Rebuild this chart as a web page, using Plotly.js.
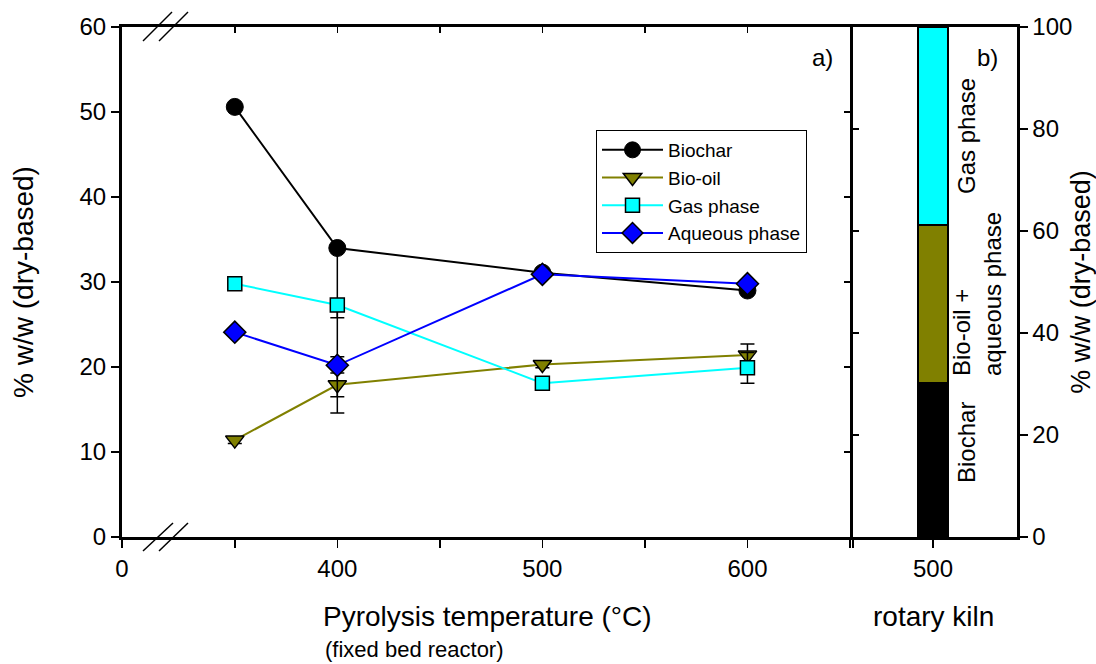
<!DOCTYPE html>
<html><head><meta charset="utf-8">
<script src="https://cdn.plot.ly/plotly-3.0.1.min.js"></script>
<style>html,body{margin:0;padding:0;background:#fff}#chart{width:1096px;height:664px}</style>
</head><body><div id="chart"></div>
<script>
// ---- data (panel a: fixed bed reactor) ----
const temperatures = [350, 400, 500, 600];
const biochar = [50.6, 34.0, 31.1, 29.0];
const bioOil = [11.4, 17.9, 20.3, 21.4];
const gasPhase = [29.8, 27.3, 18.1, 19.9];
const aqueousPhase = [24.1, 20.2, 30.9, 29.8];
// error bars (plus / minus)
const biocharErrPlus = [0, 0, 0, 0];
const biocharErrMinus = [0, 14.7, 0, 0];
const bioOilErr = [0.4, 3.3, 0.4, 1.3];
const gasErrPlus = [0, 0, 0, 1.8];
const gasErrMinus = [0, 1.5, 0, 1.8];
const aqueousErrPlus = [0, 0, 0, 0];
const aqueousErrMinus = [0, 3.7, 0, 0];
// x tick labels for the broken axis
const xTickVals = [295, 350, 400, 450, 500, 550, 600, 650];
const xTickText = ['0', '', '400', '', '500', '', '600', ''];

// ---- data (panel b: rotary kiln, stacked) ----
const kilnTemp = [500];
const kilnBiochar = [30.3];
const kilnBioOilAqueous = [30.9];
const kilnGas = [38.8];
const kilnTickVals = [450, 500];
const kilnTickText = ['', '500'];

const FONT = 'Arial, "Liberation Sans", sans-serif';
const errStyle = {color: '#000', thickness: 1.5, width: 7};

function errArr(plus, minus) {
  return Object.assign({type: 'data', symmetric: false, array: plus, arrayminus: minus, visible: true}, errStyle);
}

const traces = [
  {x: temperatures, y: biochar, name: 'Biochar', type: 'scatter', mode: 'lines+markers',
   line: {color: '#000000', width: 2},
   marker: {symbol: 'circle', size: 17, color: '#000000', line: {color: '#000', width: 1}},
   error_y: errArr(biocharErrPlus, biocharErrMinus)},
  {x: temperatures, y: bioOil, name: 'Bio-oil', type: 'scatter', mode: 'lines+markers',
   line: {color: '#808000', width: 2},
   marker: {symbol: 'triangle-down', size: 16, color: '#808000', line: {color: '#000', width: 1.5}},
   error_y: Object.assign({type: 'data', array: bioOilErr, visible: true}, errStyle)},
  {x: temperatures, y: gasPhase, name: 'Gas phase', type: 'scatter', mode: 'lines+markers',
   line: {color: '#00FFFF', width: 2},
   marker: {symbol: 'square', size: 14, color: '#00FFFF', line: {color: '#000', width: 1.5}},
   error_y: errArr(gasErrPlus, gasErrMinus)},
  {x: temperatures, y: aqueousPhase, name: 'Aqueous phase', type: 'scatter', mode: 'lines+markers',
   line: {color: '#0000FF', width: 2},
   marker: {symbol: 'diamond', size: 17, color: '#0000FF', line: {color: '#000', width: 1.5}},
   error_y: errArr(aqueousErrPlus, aqueousErrMinus)},
  // stacked bar in panel b
  {x: kilnTemp, y: kilnBiochar, type: 'bar', xaxis: 'x2', yaxis: 'y2', width: 18.75, showlegend: false,
   marker: {color: '#000000', line: {color: '#000', width: 1.5}}, hoverinfo: 'skip'},
  {x: kilnTemp, y: kilnBioOilAqueous, type: 'bar', xaxis: 'x2', yaxis: 'y2', width: 18.75, showlegend: false,
   marker: {color: '#808000', line: {color: '#000', width: 1.5}}, hoverinfo: 'skip'},
  {x: kilnTemp, y: kilnGas, type: 'bar', xaxis: 'x2', yaxis: 'y2', width: 18.75, showlegend: false,
   marker: {color: '#00FFFF', line: {color: '#000', width: 1.5}}, hoverinfo: 'skip'},
  // helper traces so the mirrored (inside-tick) axes are drawn
  {x: [null], y: [null], xaxis: 'x3', yaxis: 'y3', type: 'scatter', mode: 'markers', showlegend: false, hoverinfo: 'skip'},
  {x: [null], y: [null], xaxis: 'x2', yaxis: 'y4', type: 'scatter', mode: 'markers', showlegend: false, hoverinfo: 'skip'}
];

const P = (px) => (px - 122) / 895;   // paper x from pixel
const Q = (py) => (537 - py) / 510;   // paper y from pixel

const slash = (x0, y0, x1, y1) => ({type: 'line', xref: 'paper', yref: 'paper',
  x0: P(x0), y0: Q(y0), x1: P(x1), y1: Q(y1), line: {color: '#000', width: 1.5}});

const tickFont = {family: FONT, size: 24, color: '#000'};
const note = (text, px, py, size, extra) => Object.assign({text: text, xref: 'paper', yref: 'paper',
  x: P(px), y: Q(py), xanchor: 'center', yanchor: 'middle', showarrow: false,
  font: {family: FONT, size: size, color: '#000'}}, extra || {});

const layout = {
  width: 1096, height: 664,
  margin: {l: 122, r: 79, t: 27, b: 127},
  paper_bgcolor: '#fff', plot_bgcolor: 'rgba(0,0,0,0)',
  font: {family: FONT, color: '#000'},
  showlegend: true,
  hovermode: false,
  barmode: 'stack',
  xaxis: {domain: [0, P(850)], range: [295, 650], anchor: 'y',
    tickmode: 'array', tickvals: xTickVals, ticktext: xTickText,
    ticks: 'outside', ticklen: 8, tickwidth: 1.5, tickcolor: '#000',
    showline: true, linewidth: 3, linecolor: '#000', showgrid: false, zeroline: false,
    tickfont: tickFont},
  xaxis3: {overlaying: 'x', side: 'top', anchor: 'y', range: [295, 650],
    tickmode: 'array', tickvals: xTickVals.slice(1), ticks: 'inside', ticklen: 6, tickwidth: 1.5, tickcolor: '#000',
    showticklabels: false, showline: true, linewidth: 3, linecolor: '#000', showgrid: false, zeroline: false},
  yaxis: {domain: [0, 1], range: [0, 60], anchor: 'x', dtick: 10,
    ticks: 'outside', ticklen: 8, tickwidth: 1.5, tickcolor: '#000',
    showline: true, linewidth: 3, linecolor: '#000', showgrid: false, zeroline: false,
    tickfont: tickFont,
    title: {text: '% w/w (dry-based)', font: {family: FONT, size: 28, color: '#000'}, standoff: 38}},
  yaxis3: {overlaying: 'y', side: 'right', anchor: 'x', range: [0, 60], dtick: 10,
    ticks: 'inside', ticklen: 6, tickwidth: 1.5, tickcolor: '#000',
    showticklabels: false, showline: true, linewidth: 3, linecolor: '#000', showgrid: false, zeroline: false},
  xaxis2: {domain: [P(853), 1], range: [450, 552.5], anchor: 'y2',
    tickmode: 'array', tickvals: kilnTickVals, ticktext: kilnTickText,
    ticks: 'outside', ticklen: 8, tickwidth: 1.5, tickcolor: '#000',
    showline: true, mirror: true, linewidth: 3, linecolor: '#000', showgrid: false, zeroline: false,
    tickfont: tickFont},
  yaxis2: {domain: [0, 1], range: [0, 100], anchor: 'x2', side: 'right', dtick: 20,
    ticks: 'outside', ticklen: 8, tickwidth: 1.5, tickcolor: '#000',
    showline: true, linewidth: 2.5, linecolor: '#000', showgrid: false, zeroline: false,
    tickfont: tickFont,
    title: {text: '% w/w (dry-based)', font: {family: FONT, size: 27, color: '#000'}, standoff: 4}},
  yaxis4: {overlaying: 'y2', side: 'left', anchor: 'x2', range: [0, 100], dtick: 20,
    ticks: 'inside', ticklen: 6, tickwidth: 1.5, tickcolor: '#000',
    showticklabels: false, showline: true, linewidth: 3, linecolor: '#000', showgrid: false, zeroline: false},
  legend: {x: P(596), y: Q(130), xanchor: 'left', yanchor: 'top',
    bgcolor: '#fff', bordercolor: '#000', borderwidth: 1,
    font: {family: FONT, size: 19, color: '#000'}, traceorder: 'normal', itemwidth: 61,
    tracegroupgap: 0},
  shapes: [
    slash(143, 41, 172, 12), slash(159, 41, 188, 12),
    slash(143, 551, 173, 523), slash(159, 551, 188, 523)
  ],
  annotations: [
    note('a)', 822, 57, 24),
    note('b)', 987, 57, 24),
    note('Gas phase', 966, 136, 24, {textangle: -90}),
    note('Bio-oil +<br>aqueous phase', 977, 294, 24, {textangle: -90, align: 'left'}),
    note('Biochar', 966, 443, 24, {textangle: -90}),
    note('Pyrolysis temperature (°C)', 487, 617, 28),
    note('(fixed bed reactor)', 323, 649, 22, {xanchor: 'left'}),
    note('rotary kiln', 933, 617, 28)
  ]
};

Plotly.newPlot('chart', traces, layout, {staticPlot: true, displayModeBar: false});
</script>
</body></html>
